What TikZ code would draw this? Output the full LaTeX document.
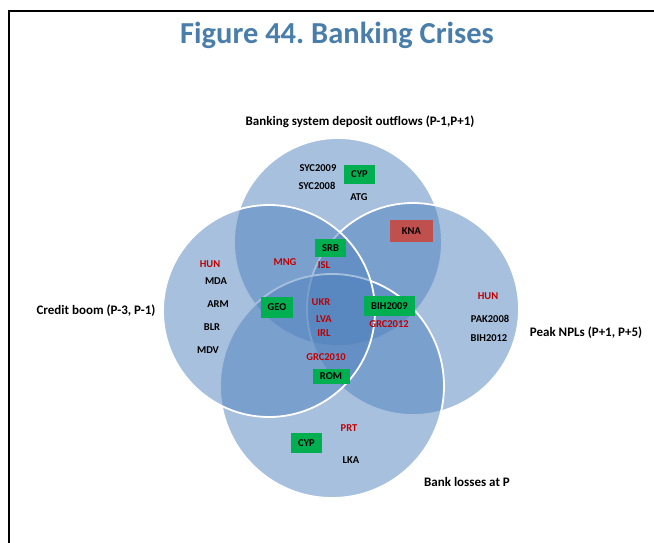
\documentclass[tikz,border=0pt]{standalone}
\usepackage{fontspec}
\setmainfont{Carlito}
\usepackage{tikz}
\usetikzlibrary{positioning}
\definecolor{vennblue}{RGB}{79,129,189}
\definecolor{titleblue}{RGB}{74,126,170}
\definecolor{boxgreen}{RGB}{0,176,80}
\definecolor{boxred}{RGB}{192,80,77}
\definecolor{txtred}{RGB}{192,0,0}
\frenchspacing

\tikzset{
  venn/.style={circle, fill=vennblue, fill opacity=0.5, draw=white, draw opacity=1, line width=1.8pt, inner sep=0pt},
  ctry/.style={font=\fontsize{10.5}{12}\selectfont\bfseries, inner sep=0pt},
  ctryred/.style={ctry, text=txtred},
  gbox/.style={ctry, fill=boxgreen, minimum width=31pt, minimum height=19pt},
  rbox/.style={ctry, fill=boxred, minimum width=43pt, minimum height=22pt},
  setname/.style={font=\fontsize{13}{15}\selectfont\bfseries, inner sep=0pt},
}

\begin{document}
\begin{tikzpicture}[x=1pt,y=-1pt]
  \useasboundingbox (0,0) rectangle (654,543);
  \draw[line width=2.5pt] (9,543) -- (9,11) -- (654,11);

  \node[font=\fontsize{30.5}{34}\selectfont\bfseries, text=titleblue] (title) at (337,35) {Figure 44. Banking Crises};

  % the four sets
  \node[venn, minimum size=208pt] (dep) at (338,242) {};
  \node[venn, minimum size=212pt] (npl) at (413,309) {};
  \node[venn, minimum size=224pt] (loss) at (332,386) {};
  \node[venn, minimum size=212pt] (boom) at (269,311) {};

  \node[setname] (depname) at (360,122) {Banking system deposit outflows (P-1,P+1)};
  \node[setname] (boomname) at (96,311) {Credit boom (P-3, P-1)};
  \node[setname] (nplname) at (586,333) {Peak NPLs (P+1, P+5)};
  \node[setname] (lossname) at (467,482) {Bank losses at P};

  % deposit outflows
  \node[ctry] (syc09) at (318,168) {SYC2009};
  \node[ctry] (syc08) at (317,186) {SYC2008};
  \node[gbox] (cyptop) at (359.5,174.5) {CYP};
  \node[ctry] (atg) at (359,197) {ATG};
  \node[rbox] (kna) at (411.5,231) {KNA};
  \node[gbox, minimum height=18pt] (srb) at (330.5,248) {\raisebox{-2pt}{SRB}};
  \node[ctryred] (mng) at (285,262) {MNG};
  \node[ctryred] (isl) at (324,265) {ISL};

  % credit boom
  \node[ctryred] (hunleft) at (210,264) {HUN};
  \node[ctry] (mda) at (216,281) {MDA};
  \node[ctry] (arm) at (218,304) {ARM};
  \node[ctry] (blr) at (212,327) {BLR};
  \node[ctry] (mdv) at (208,350) {MDV};
  \node[gbox, minimum width=32pt, minimum height=21pt] (geo) at (277,307.5) {GEO};

  % centre
  \node[ctryred] (ukr) at (321,302) {UKR};
  \node[ctryred] (lva) at (324,319) {LVA};
  \node[ctryred] (irl) at (324,333) {IRL};
  \node[ctryred] (grc10) at (326,357) {GRC2010};
  \node[gbox, minimum width=51pt, minimum height=20pt] (bih09) at (389.5,306) {BIH2009};
  \node[ctryred] (grc12) at (389,324) {GRC2012};
  \node[gbox, minimum width=37pt, minimum height=15pt] (rom) at (331,376) {\raisebox{-3pt}{ROM}};

  % peak NPLs
  \node[ctryred] (hunright) at (488,296) {HUN};
  \node[ctry] (pak08) at (490,319) {PAK2008};
  \node[ctry] (bih12) at (489,338) {BIH2012};

  % bank losses
  \node[ctryred] (prt) at (349,428) {PRT};
  \node[gbox, minimum height=20pt] (cypbot) at (306.5,443) {CYP};
  \node[ctry] (lka) at (351,460) {LKA};
\end{tikzpicture}
\end{document}
